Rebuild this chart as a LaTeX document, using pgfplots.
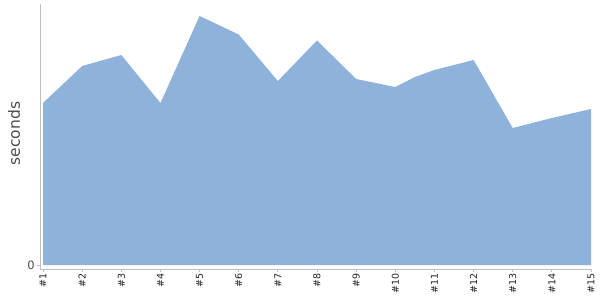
\documentclass[border=0pt]{standalone}
\usepackage{pgfplots}
\pgfplotsset{compat=1.18}
\usepackage{fontspec}
\setmainfont{DejaVu Sans}
\definecolor{areafill}{RGB}{143,178,218}
\definecolor{axisgray}{RGB}{190,190,190}
\definecolor{txt}{RGB}{34,34,34}
\begin{document}
\begin{tikzpicture}
\useasboundingbox (0,0) rectangle (600pt,300pt);
\begin{axis}[
  at={(40pt,31pt)}, anchor=south west,
  scale only axis, width=551pt, height=265pt,
  xmin=0.923, xmax=15, ymin=-4, ymax=261,
  axis lines*=left,
  axis line style={draw=axisgray, line width=0.8pt},
  xtick={1,...,15},
  xticklabels={\#1,\#2,\#3,\#4,\#5,\#6,\#7,\#8,\#9,\#10,\#11,\#12,\#13,\#14,\#15},
  x tick label style={rotate=90, anchor=east, font=\fontsize{9.5}{10}\selectfont, text=txt, inner sep=1.5pt},
  xtick align=outside,
  major tick length=3pt,
  tick style={draw=axisgray, line width=0.8pt},
  ytick={0},
  y tick label style={font=\fontsize{11.5}{12}\selectfont, text=black!70, inner sep=2pt},
  ytick align=outside,
  ylabel={seconds},
  ylabel style={font=\fontsize{15.5}{16}\selectfont, text=black!70, at={(axis description cs:-0.0472,0.511)}, anchor=center},
  /pgf/number format/assume math mode=true,
  clip=false,
]
\addplot[fill=areafill, draw=none] coordinates {
(1,0) (1,162) (2,199) (3,210) (4,162) (5,249) (6,230.5) (7,184) (8,224.5) (9,186) (10,178) (10.5,188) (11,195) (12,205) (13,137) (14,147) (14.5,151.5) (15,156) (15,0)
} \closedcycle;
\end{axis}
\end{tikzpicture}
\end{document}
